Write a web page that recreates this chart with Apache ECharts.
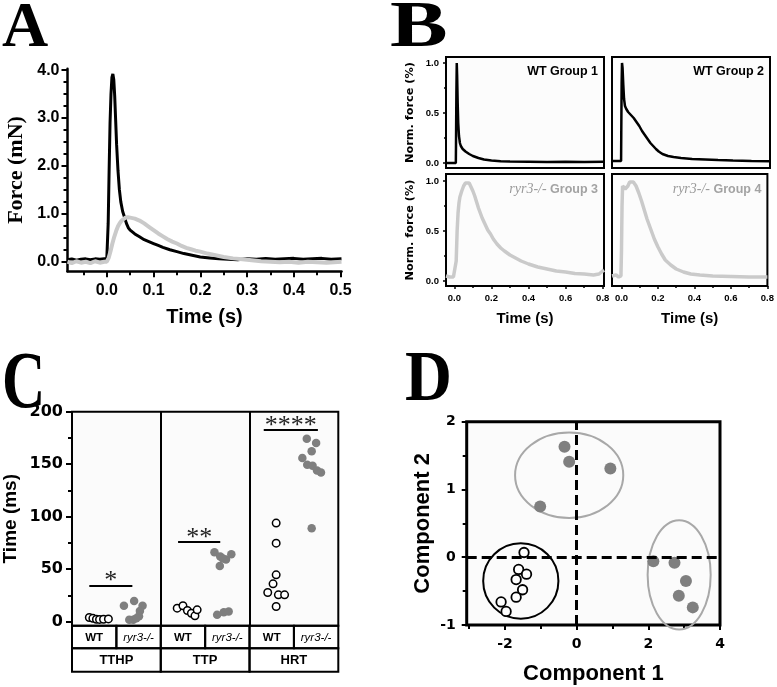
<!DOCTYPE html>
<html><head><meta charset="utf-8">
<script src="https://cdn.jsdelivr.net/npm/echarts@6/dist/echarts.min.js"></script>
<style>html,body{margin:0;padding:0;background:#fff}#c{width:777px;height:687px}</style>
</head><body><div id="c"></div>
<script>
// ---------- Panel A: force traces [time (s), force (mN)] ----------
const traceA_WT = [[-0.084,0.04],[-0.075,0.06],[-0.065,0.03],[-0.055,0.05],[-0.045,0.06],[-0.035,0.04],[-0.025,0.06],[-0.015,0.05],[-0.005,0.06],[0.000,0.06],[0.003,0.8],[0.005,1.9],[0.007,2.9],[0.009,3.5],[0.011,3.85],[0.013,3.92],[0.015,3.8],[0.017,3.45],[0.019,2.95],[0.021,2.45],[0.024,1.9],[0.027,1.5],[0.030,1.25],[0.034,1.05],[0.038,0.93],[0.042,0.80],[0.046,0.71],[0.050,0.66],[0.060,0.58],[0.070,0.52],[0.080,0.46],[0.090,0.42],[0.100,0.38],[0.110,0.34],[0.120,0.30],[0.135,0.25],[0.150,0.21],[0.165,0.17],[0.180,0.14],[0.200,0.10],[0.220,0.08],[0.240,0.06],[0.260,0.05],[0.280,0.04],[0.300,0.06],[0.320,0.05],[0.340,0.07],[0.360,0.05],[0.380,0.06],[0.400,0.07],[0.420,0.05],[0.440,0.06],[0.460,0.07],[0.480,0.05],[0.502,0.06]];
const traceA_KO = [[-0.084,0.0],[-0.075,-0.03],[-0.065,0.01],[-0.055,-0.02],[-0.045,0.0],[-0.035,-0.03],[-0.025,0.01],[-0.015,-0.02],[-0.005,0.0],[0.000,0.0],[0.004,0.08],[0.008,0.22],[0.012,0.38],[0.016,0.52],[0.020,0.64],[0.024,0.74],[0.028,0.81],[0.032,0.86],[0.036,0.90],[0.040,0.92],[0.045,0.93],[0.050,0.92],[0.060,0.90],[0.070,0.86],[0.080,0.80],[0.090,0.73],[0.100,0.66],[0.110,0.59],[0.120,0.53],[0.130,0.47],[0.140,0.42],[0.150,0.38],[0.160,0.33],[0.170,0.29],[0.180,0.26],[0.190,0.23],[0.200,0.21],[0.215,0.17],[0.230,0.14],[0.250,0.10],[0.270,0.07],[0.290,0.05],[0.310,0.03],[0.330,0.01],[0.350,0.0],[0.370,-0.01],[0.390,0.0],[0.410,-0.02],[0.430,0.0],[0.450,-0.01],[0.470,-0.02],[0.502,0.0]];

// ---------- Panel B: normalised force traces ----------
const traceB1 = [[-0.045,0.0],[0.008,0.0],[0.009,0.2],[0.011,0.7],[0.013,1.0],[0.015,0.88],[0.018,0.6],[0.021,0.4],[0.025,0.27],[0.030,0.2],[0.035,0.17],[0.045,0.14],[0.060,0.115],[0.080,0.09],[0.100,0.07],[0.130,0.05],[0.160,0.035],[0.200,0.025],[0.250,0.018],[0.300,0.014],[0.400,0.012],[0.500,0.01],[0.600,0.012],[0.700,0.01],[0.807,0.012]];
const traceB2 = [[-0.052,0.02],[-0.003,0.02],[-0.002,0.3],[0.000,0.8],[0.002,1.0],[0.005,0.95],[0.009,0.78],[0.013,0.64],[0.018,0.57],[0.025,0.54],[0.035,0.51],[0.050,0.48],[0.065,0.45],[0.080,0.41],[0.095,0.37],[0.110,0.32],[0.125,0.28],[0.140,0.24],[0.155,0.20],[0.170,0.17],[0.185,0.14],[0.200,0.115],[0.220,0.09],[0.250,0.07],[0.280,0.06],[0.320,0.05],[0.380,0.04],[0.450,0.035],[0.520,0.03],[0.600,0.025],[0.700,0.02],[0.800,0.018]];
const traceB3 = [[-0.045,0.05],[-0.035,0.07],[-0.025,0.04],[-0.015,0.06],[-0.005,0.04],[0.005,0.05],[0.010,0.2],[0.015,0.5],[0.020,0.68],[0.025,0.78],[0.030,0.84],[0.040,0.9],[0.050,0.95],[0.060,0.98],[0.070,1.0],[0.080,0.98],[0.090,0.94],[0.100,0.9],[0.110,0.85],[0.120,0.79],[0.130,0.73],[0.140,0.68],[0.150,0.63],[0.165,0.57],[0.180,0.51],[0.195,0.47],[0.210,0.42],[0.230,0.37],[0.250,0.33],[0.270,0.3],[0.300,0.26],[0.330,0.23],[0.360,0.2],[0.400,0.17],[0.450,0.14],[0.500,0.12],[0.550,0.1],[0.600,0.09],[0.650,0.075],[0.700,0.07],[0.750,0.06],[0.780,0.07],[0.800,0.1],[0.807,0.11]];
const traceB4 = [[-0.052,0.05],[-0.045,0.04],[-0.03,0.06],[-0.015,0.04],[-0.003,0.05],[0.000,0.3],[0.003,0.75],[0.006,0.95],[0.012,0.96],[0.020,0.92],[0.027,0.91],[0.035,0.95],[0.045,0.99],[0.055,1.0],[0.065,0.99],[0.080,0.95],[0.095,0.88],[0.110,0.8],[0.125,0.71],[0.140,0.62],[0.160,0.52],[0.180,0.42],[0.200,0.34],[0.220,0.27],[0.240,0.21],[0.270,0.16],[0.300,0.12],[0.340,0.09],[0.380,0.07],[0.430,0.06],[0.500,0.05],[0.600,0.045],[0.700,0.04],[0.800,0.04]];
const groupGenotypeB = ['WT','WT','ryr3-/-','ryr3-/-'];
const groupNameB = ['Group 1','Group 2','Group 3','Group 4'];

// ---------- Panel C: time parameters (ms) ----------
const cSubCats = ['WT','ryr3-/-','WT','ryr3-/-','WT','ryr3-/-'];
const cMeasures = ['TTHP','TTP','HRT'];
const tthpWT_pos = [0.39,0.47,0.55,0.62,0.71,0.82];
const tthpWT_val = [3.8,3.0,2.2,2.0,2.2,2.5];
const tthpKO_pos = [1.17,1.40,1.59,1.53,1.51,1.29,1.38,1.45];
const tthpKO_val = [15,19.5,15,10,5,1.6,1.6,3];
const ttpWT_pos = [2.37,2.50,2.60,2.69,2.77,2.82];
const ttpWT_val = [12.7,15,10.5,7.9,5.4,11.1];
const ttpKO_pos = [3.21,3.34,3.47,3.59,3.33,3.40,3.27,3.42,3.53];
const ttpKO_val = [66,62,59,64,53,60,6.4,8.9,9.5];
const hrtWT_pos = [4.60,4.60,4.60,4.53,4.41,4.65,4.79,4.60];
const hrtWT_val = [93.8,74.7,44.5,35.9,27.7,25.4,25.4,14.3];
const hrtKO_pos = [5.29,5.50,5.40,5.19,5.30,5.42,5.52,5.61,5.40];
const hrtKO_val = [174.2,170.1,162.2,155.8,149.4,148.5,144,142.1,89];
const sigStart = [0.39,2.39,4.32];
const sigEnd = [1.36,3.34,5.54];
const sigLevel = [34.3,75.7,182.8];
const sigStars = ['*','**','****'];

// ---------- Panel D: PCA ----------
const pcaWT = [[-1.47,0.07],[-1.62,-0.18],[-1.40,-0.25],[-1.69,-0.33],[-1.51,-0.48],[-1.69,-0.59],[-2.11,-0.66],[-1.97,-0.80]];
const pcaKO = [[-0.34,1.63],[-0.21,1.41],[0.94,1.31],[-1.02,0.75],[2.14,-0.06],[2.73,-0.08],[3.05,-0.35],[2.85,-0.57],[3.24,-0.74]];
const clusterEllipses = [[-1.56,-0.35,1.05,0.556],[-0.21,1.21,1.51,0.63],[2.86,-0.26,0.88,0.806]];
const ellipseColors = ['#000000','#a8a8a8','#a8a8a8'];

// ======================================================
const BLACK='#000', GRAY_LINE='#cacaca', GRAY_DOT='#7f7f7f';
const SANS='"Liberation Sans", Arial, sans-serif', DEJ='"DejaVu Sans", sans-serif', SERIF='"Liberation Serif", "Times New Roman", serif';
const X=[], Y=[];
function axis(arr, o){
  const main = {
    type:'value', gridIndex:o.grid, min:o.min, max:o.max, position:o.pos, show: o.show!==false,
    splitLine:{show:false},
    axisLine:{show:!!o.line, onZero:false, lineStyle:{color:BLACK, width:o.lw||2}},
    axisTick:{show:!!o.major, customValues:o.major||[0], length:o.tl||5, lineStyle:{color:BLACK, width:o.tw||2}},
    axisLabel:{show:!!o.labels, customValues:o.labels||[0], formatter:o.fmt||(v=>String(v)), margin:o.margin||6,
      color:BLACK, fontWeight:'bold', fontFamily:o.ff||SANS, fontSize:o.fs||12},
    name:o.name||'', nameLocation:'middle', nameGap:o.gap||20,
    nameTextStyle:{color:BLACK, fontWeight:'bold', fontFamily:o.nff||SANS, fontSize:o.nfs||14}
  };
  arr.push(main); const idx = arr.length-1;
  if (o.minor) arr.push({type:'value', gridIndex:o.grid, min:o.min, max:o.max, position:o.pos,
    splitLine:{show:false}, axisLine:{show:false, onZero:false}, axisLabel:{show:false},
    axisTick:{show:true, customValues:o.minor, length:o.mtl||3, lineStyle:{color:BLACK, width:o.tw||2}}});
  return idx;
}
const f1 = v => v.toFixed(1);
const grids = [
  {left:67.5, top:68.7, width:274, height:202.6},
  {left:446, top:57, width:158, height:111, show:true, borderColor:BLACK, borderWidth:2, backgroundColor:'#fcfcfc'},
  {left:612, top:57, width:158, height:111, show:true, borderColor:BLACK, borderWidth:2, backgroundColor:'#fcfcfc'},
  {left:446, top:174, width:158, height:112, show:true, borderColor:BLACK, borderWidth:2, backgroundColor:'#fcfcfc'},
  {left:612, top:174, width:158, height:112, show:true, borderColor:BLACK, borderWidth:2, backgroundColor:'#fcfcfc'},
  {left:71, top:411.7, width:267.3, height:214, show:true, borderColor:BLACK, borderWidth:2, backgroundColor:'#fbfbfb'},
  {left:466.7, top:421.7, width:253.3, height:203.3, show:true, borderColor:BLACK, borderWidth:3, backgroundColor:'#fbfbfb'}
];
// A
const ax = axis(X,{grid:0,min:-0.084,max:0.502,pos:'bottom',line:true,lw:2.5,major:[0,0.1,0.2,0.3,0.4,0.5],minor:[-0.05,0.05,0.15,0.25,0.35,0.45],tl:6,mtl:4,
  labels:[0,0.1,0.2,0.3,0.4,0.5],fmt:f1,fs:16,margin:11,name:'Time (s)',nfs:20,gap:36});
const ay = axis(Y,{grid:0,min:-0.2,max:4.03,pos:'left',line:true,lw:2.5,major:[0,1,2,3,4],minor:[0.25,0.5,0.75,1.25,1.5,1.75,2.25,2.5,2.75,3.25,3.5,3.75],tl:6,mtl:4,
  labels:[0,1,2,3,4],fmt:f1,fs:16,margin:8,name:'Force (mN)',nff:SERIF,nfs:22,gap:40});
// B
const bx = [], by = [];
const bxMin=[-0.045,-0.052,-0.045,-0.052], bxMax=[0.807,0.80,0.807,0.80];
for (let k=0;k<4;k++){
  const bottom = k>=2, left = (k%2===0);
  bx.push(axis(X,{grid:k+1,min:bxMin[k],max:bxMax[k],pos:'bottom',
    major: bottom?[0,0.2,0.4,0.6,0.8]:null, minor: bottom?[0.1,0.3,0.5,0.7]:null, tl:3, mtl:2, tw:1.5,
    labels: bottom?[0,0.2,0.4,0.6,0.8]:null, fmt:f1, fs:9.5, margin:7,
    name: bottom?'Time (s)':'', nfs:15, gap:25}));
  by.push(axis(Y,{grid:k+1,min:-0.05,max:bottom?1.07:1.06,pos:'left',
    major: left?[0,0.5,1]:null, minor: left?[0.25,0.75]:null, tl:3, mtl:2, tw:1.5,
    labels: left?[0,0.5,1]:null, fmt:f1, fs:9.5, margin:7,
    name: left?'Norm. force (%)':'', nff:DEJ, nfs:11.3, gap:30}));
}
// C
const cx = axis(X,{grid:5,min:0,max:6,pos:'bottom',show:false});
const cy = axis(Y,{grid:5,min:-4,max:200,pos:'left',major:[0,50,100,150,200],minor:[25,75,125,175],tl:6,mtl:4,
  labels:[0,50,100,150,200],ff:DEJ,fs:16,margin:9,name:'Time (ms)',nfs:19,gap:52});
// D
const dx = axis(X,{grid:6,min:-3.07,max:4,pos:'bottom',major:[-2,0,2,4],minor:[-3,-1,1,3],tl:5,mtl:4,
  labels:[-2,0,2,4],ff:DEJ,fs:14,margin:12,name:'Component 1',nfs:22,gap:38});
const dy = axis(Y,{grid:6,min:-1,max:2,pos:'left',major:[-1,0,1,2],minor:[-0.5,0.5,1.5],tl:5,mtl:4,
  labels:[-1,0,1,2],ff:DEJ,fs:14,margin:11,name:'Component 2',nfs:22,gap:33});

const series = [];
function line(xi, yi, data, color, w){
  series.push({type:'line', xAxisIndex:xi, yAxisIndex:yi, data, showSymbol:false, symbol:'none', lineStyle:{color, width:w}, silent:true});
}
line(ax, ay, traceA_WT, BLACK, 3);
line(ax, ay, traceA_KO, GRAY_LINE, 4);
const bTraces = [traceB1, traceB2, traceB3, traceB4];
bTraces.forEach((t,k)=> line(bx[k], by[k], t, k<2?BLACK:GRAY_LINE, k<2?2.5:3.5));

// C scatter
const zip = (p,v)=>p.map((x,i)=>[x,v[i]]);
const cWT = [].concat(zip(tthpWT_pos,tthpWT_val), zip(ttpWT_pos,ttpWT_val), zip(hrtWT_pos,hrtWT_val));
const cKO = [].concat(zip(tthpKO_pos,tthpKO_val), zip(ttpKO_pos,ttpKO_val), zip(hrtKO_pos,hrtKO_val));
series.push({type:'scatter', xAxisIndex:cx, yAxisIndex:cy, data:cKO, symbolSize:8.5, itemStyle:{color:GRAY_DOT, opacity:1}, z:3,
  markLine:{silent:true, symbol:['none','none'], label:{show:false}, lineStyle:{color:BLACK, width:2, type:'solid'},
    data:[{xAxis:2},{xAxis:4}]}});
series.push({type:'scatter', xAxisIndex:cx, yAxisIndex:cy, data:cWT, symbolSize:7.5, itemStyle:{color:'#fff', borderColor:BLACK, borderWidth:1.5, opacity:1}, z:4,
  markLine:{silent:true, symbol:['none','none'], lineStyle:{color:BLACK, width:2, type:'solid'},
    label:{show:true, position:'middle', formatter:p=>p.name, fontFamily:SERIF, fontSize:26, color:'#222', distance:-9},
    data: sigStart.map((s,i)=>[{coord:[s,sigLevel[i]], name:sigStars[i]},{coord:[sigEnd[i],sigLevel[i]]}])}});

// D
series.push({type:'custom', xAxisIndex:dx, yAxisIndex:dy, data:clusterEllipses.map((e,i)=>e.concat([i])), silent:true, z:1,
  encode:{x:0,y:1},
  renderItem:(params, api)=>{
    const c = api.coord([api.value(0), api.value(1)]);
    const s = api.size([api.value(2), api.value(3)]);
    return {type:'ellipse', shape:{cx:c[0], cy:c[1], rx:s[0], ry:s[1]}, style:{fill:'none', stroke:ellipseColors[api.value(4)], lineWidth:2}};
  }});
series.push({type:'scatter', xAxisIndex:dx, yAxisIndex:dy, data:pcaKO, symbolSize:12, itemStyle:{color:GRAY_DOT, opacity:1}, z:3,
  markLine:{silent:true, symbol:['none','none'], label:{show:false}, lineStyle:{color:BLACK, width:3, type:[10,5]},
    data:[{xAxis:0},{yAxis:0}]}, });
series.push({type:'scatter', xAxisIndex:dx, yAxisIndex:dy, data:pcaWT, symbolSize:9.5, itemStyle:{color:'#fff', borderColor:BLACK, borderWidth:1.8, opacity:1}, z:4});

const chart = echarts.init(document.getElementById('c'), null, {renderer:'canvas'});
chart.setOption({animation:false, backgroundColor:'#fff', grid:grids, xAxis:X, yAxis:Y, series});

// ---------- graphics: panel letters, group labels, category table ----------
const g = [];
const letter = (t,x,y,fs,sx,sy)=>g.push({type:'text', x, y, scaleX:sx, scaleY:sy, silent:true,
  style:{text:t, font:'bold '+fs+'px '+SERIF, fill:BLACK, textAlign:'left', textVerticalAlign:'middle'}});
letter('A',2,29,64,1,1); letter('B',390,29,65,1.33,1); letter('C',2,386,60,1,1.33); letter('D',405,381,65,1,1.12);

for (let k=0;k<4;k++){
  const gi = {xAxisIndex:bx[k], yAxisIndex:by[k]};
  const r = chart.convertToPixel(gi, [bxMax[k], 0.92]);
  const wt = groupGenotypeB[k]==='WT';
  g.push({type:'text', x:r[0]-6, y:r[1]+0.5, silent:true, style:{
    text: wt ? groupGenotypeB[k]+' '+groupNameB[k] : '{i|'+groupGenotypeB[k]+'} {b|'+groupNameB[k]+'}',
    font:'bold 12.5px '+SANS, fill:BLACK, textAlign:'right', textVerticalAlign:'middle',
    rich:{i:{fontFamily:SERIF, fontStyle:'italic', fontWeight:'normal', fontSize:14, fill:'#9a9a9a'},
          b:{fontFamily:SANS, fontWeight:'bold', fontSize:12.5, fill:'#a3a3a3'}}}});
}
// table under panel C
const cfind = {xAxisIndex:cx, yAxisIndex:cy};
const px = v => chart.convertToPixel(cfind, [v, -4]);
const tTop = px(0)[1], r1 = 22.6, r2 = 23.4;
for (let i=0;i<6;i++){
  const a = px(i)[0], b = px(i+1)[0];
  g.push({type:'rect', shape:{x:a, y:tTop, width:b-a, height:r1}, style:{fill:'none', stroke:BLACK, lineWidth:2}, silent:true});
  const wt = cSubCats[i]==='WT';
  g.push({type:'text', x:(a+b)/2, y:tTop+r1/2+0.5, silent:true, style:{text:cSubCats[i],
    font: wt ? 'bold 11.5px '+SANS : 'italic 11.5px '+SANS, fill:BLACK, textAlign:'center', textVerticalAlign:'middle'}});
}
for (let j=0;j<3;j++){
  const a = px(2*j)[0], b = px(2*j+2)[0];
  g.push({type:'rect', shape:{x:a, y:tTop+r1, width:b-a, height:r2}, style:{fill:'none', stroke:BLACK, lineWidth:2}, silent:true});
  g.push({type:'text', x:(a+b)/2, y:tTop+r1+r2/2+0.5, silent:true, style:{text:cMeasures[j],
    font:'bold 13px '+SANS, fill:BLACK, textAlign:'center', textVerticalAlign:'middle'}});
}
chart.setOption({graphic:{elements:g}});
</script></body></html>
